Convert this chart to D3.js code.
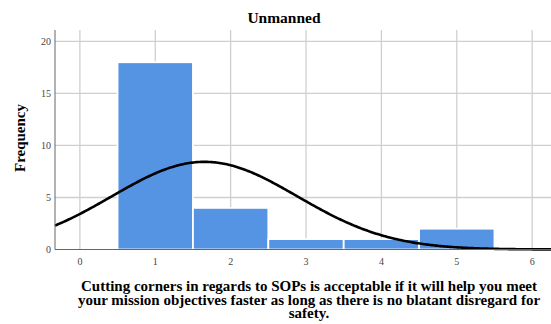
<!DOCTYPE html>
<html>
<head>
<meta charset="utf-8">
<script src="https://cdn.jsdelivr.net/npm/d3@7"></script>
<style>
  body { margin: 0; background: #fff; }
</style>
</head>
<body>
<div id="svg-container"></div>
<script>
// response categories and frequencies
var categories = [1, 2, 3, 4, 5];
var frequencies = [18, 4, 1, 1, 2];
var xTicks = [0, 1, 2, 3, 4, 5, 6];
var yTicks = [0, 5, 10, 15, 20];
var title = "Unmanned";
var xLabel = ["Cutting corners in regards to SOPs is acceptable if it will help you meet",
              "your mission objectives faster as long as there is no blatant disregard for",
              "safety."];

var width = 551,
    height = 324;

var svg = d3.select("#svg-container")
  .append("svg")
    .attr("width", width)
    .attr("height", height)
    .attr("font-family", "'Liberation Serif', 'Times New Roman', serif");

var plotLeft = 55, plotRight = 551, plotTop = 30, plotBottom = 249.5;

var x = d3.scaleLinear().domain([-0.33, 6.25]).range([plotLeft, plotRight]);
var y = d3.scaleLinear().domain([0, 21.1]).range([plotBottom, plotTop]);

// grid
svg.append("g").selectAll("line")
  .data(xTicks)
  .enter().append("line")
    .attr("x1", function(d) { return x(d); })
    .attr("x2", function(d) { return x(d); })
    .attr("y1", plotTop)
    .attr("y2", plotBottom)
    .attr("stroke", "#cfcfcf")
    .attr("stroke-width", 1.3);

svg.append("g").selectAll("line")
  .data(yTicks.slice(1))
  .enter().append("line")
    .attr("x1", plotLeft)
    .attr("x2", plotRight)
    .attr("y1", function(d) { return y(d); })
    .attr("y2", function(d) { return y(d); })
    .attr("stroke", "#cfcfcf")
    .attr("stroke-width", 1.3);

// bars
svg.append("g").selectAll("rect")
  .data(categories)
  .enter().append("rect")
    .attr("x", function(d) { return x(d - 0.5); })
    .attr("width", function(d) { return x(d + 0.5) - x(d - 0.5); })
    .attr("y", function(d, i) { return y(frequencies[i]); })
    .attr("height", function(d, i) { return y(0) - y(frequencies[i]); })
    .attr("fill", "#5593e3")
    .attr("stroke", "#fff")
    .attr("stroke-width", 1.8);

// normal curve fitted to the data
var n = d3.sum(frequencies);
var mean = d3.sum(categories, function(d, i) { return d * frequencies[i]; }) / n;
var ss = d3.sum(categories, function(d, i) { return frequencies[i] * (d - mean) * (d - mean); });
var sd = Math.sqrt(ss / (n - 1));
var curve = d3.range(-0.33, 6.26, 0.02).map(function(v) {
  return [v, n / (sd * Math.sqrt(2 * Math.PI)) * Math.exp(-(v - mean) * (v - mean) / (2 * sd * sd))];
});

svg.append("path")
  .datum(curve)
  .attr("fill", "none")
  .attr("stroke", "#000")
  .attr("stroke-width", 2.6)
  .attr("d", d3.line()
    .x(function(d) { return x(d[0]); })
    .y(function(d) { return y(d[1]); }));

// axes
svg.append("line")
  .attr("x1", plotLeft).attr("x2", plotLeft)
  .attr("y1", plotTop).attr("y2", plotBottom)
  .attr("stroke", "#666").attr("stroke-width", 1);
svg.append("line")
  .attr("x1", plotLeft).attr("x2", plotRight)
  .attr("y1", plotBottom).attr("y2", plotBottom)
  .attr("stroke", "#666").attr("stroke-width", 1);

svg.append("g").selectAll("text")
  .data(yTicks)
  .enter().append("text")
    .attr("x", 51)
    .attr("y", function(d) { return y(d); })
    .attr("dy", "0.35em")
    .attr("text-anchor", "end")
    .attr("font-size", 10)
    .attr("fill", "#444")
    .text(function(d) { return d; });

svg.append("g").selectAll("text")
  .data(xTicks)
  .enter().append("text")
    .attr("x", function(d) { return x(d); })
    .attr("y", plotBottom + 15)
    .attr("text-anchor", "middle")
    .attr("font-size", 10)
    .attr("fill", "#444")
    .text(function(d) { return d; });

// titles
svg.append("text")
  .attr("x", 284)
  .attr("y", 23)
  .attr("text-anchor", "middle")
  .attr("font-size", 15.5)
  .attr("font-weight", "bold")
  .text(title);

svg.append("text")
  .attr("transform", "translate(25,138) rotate(-90)")
  .attr("text-anchor", "middle")
  .attr("font-size", 15)
  .attr("font-weight", "bold")
  .text("Frequency");

svg.append("g").selectAll("text")
  .data(xLabel)
  .enter().append("text")
    .attr("x", 309)
    .attr("y", function(d, i) { return 291 + i * 13.5; })
    .attr("text-anchor", "middle")
    .attr("font-size", 15)
    .attr("font-weight", "bold")
    .text(function(d) { return d; });
</script>
</body>
</html>
